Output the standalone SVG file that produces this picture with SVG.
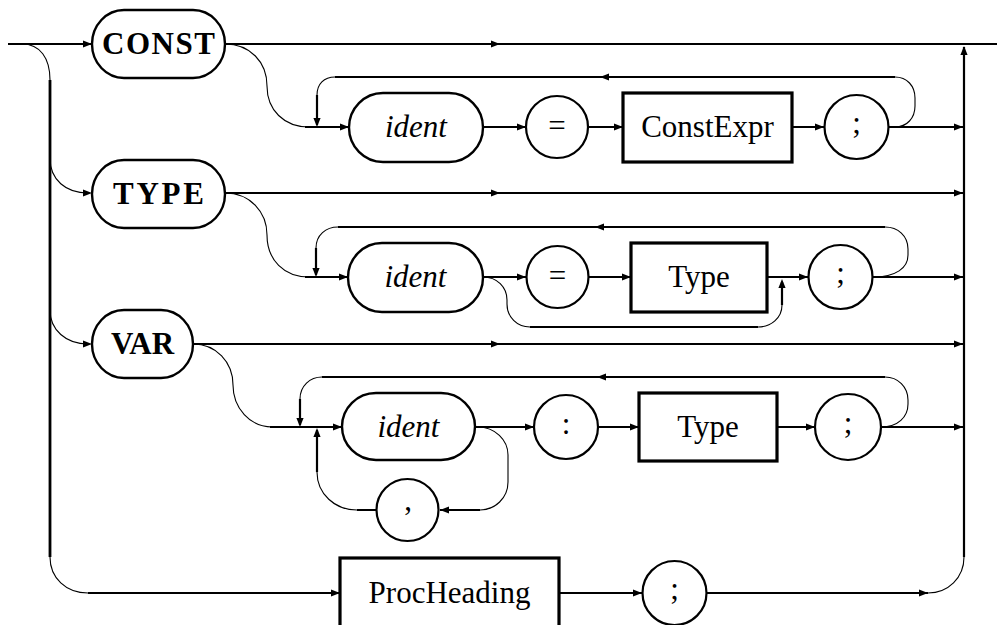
<svg xmlns="http://www.w3.org/2000/svg" xmlns:xlink="http://www.w3.org/1999/xlink" width="997" height="625" viewBox="0 0 997 625">
  <style>
    .ln { fill: none; stroke: #000; stroke-width: 2.2; }
    .thick { stroke-width: 2.8; }
    .cv { fill: none; stroke: #000; stroke-width: 1.1; }
    .pill { fill: #fff; stroke: #000; stroke-width: 2.4; }
    .box { fill: #fff; stroke: #000; stroke-width: 3.2; }
    .circ { fill: #fff; stroke: #000; stroke-width: 2.2; }
    text { font-family: "Liberation Serif", "DejaVu Serif", serif; font-size: 31px; fill: #000; text-anchor: middle; }
    .kw { font-weight: bold; }
    .id { font-style: italic; }
  </style>
  <defs>
    <path id="ah" d="M0,0 L-9,-3.6 L-9,3.6 Z" fill="#000"/>
  </defs>

  <g id="connectors">
    <!-- main straight tracks -->
    <path class="ln" d="M8,44 H997"/>
    <path class="ln" d="M225,193 H964"/>
    <path class="ln" d="M193,344 H964"/>
    <path class="ln" d="M964,557 V47"/>
    <path class="ln thick" d="M50,80 V557"/>
    <!-- CONST list -->
    <path class="ln" d="M305,127 H349 M483,127 H526 M588,127 H623 M792,127 H824 M889,127 H964"/>
    <path class="ln" d="M895,77 H335"/>
    <path class="ln" d="M317,95 V125"/>
    <!-- TYPE list -->
    <path class="ln" d="M305,277 H348 M483,277 H526 M589,277 H631 M767,277 H808 M873,277 H964"/>
    <path class="ln" d="M885,227 H338"/>
    <path class="ln" d="M316,248 V275"/>
    <path class="ln" d="M530,327 H758"/>
    <path class="ln" d="M782,305 V282"/>
    <!-- VAR list -->
    <path class="ln" d="M270,427 H342 M475,427 H534 M598,427 H639 M777,427 H815 M881,427 H964"/>
    <path class="ln" d="M885,377 H322"/>
    <path class="ln" d="M300,399 V425"/>
    <path class="ln" d="M317,472 V430"/>
    <path class="ln" d="M480,510 H440 M376,510 H357"/>
    <!-- procedure declarations -->
    <path class="ln" d="M88,593 H340 M559,593 H642 M707,593 H928"/>

    <!-- curved joins -->
    <path class="cv" d="M22,44 C40,44 50,58 50,80"/>
    <path class="cv" d="M50,158 C50,180 66,193 88,193"/>
    <path class="cv" d="M50,310 C50,330 66,344 88,344"/>
    <path class="cv" d="M50,557 C50,578 66,593 88,593"/>
    <path class="cv" d="M928,593 C948,593 964,578 964,557"/>
    <path class="cv" d="M225,44 C250,44 267,62 267,86 C267,110 284,127 309,127"/>
    <path class="cv" d="M225,193 C250,193 267,212 267,235 C267,260 284,277 309,277"/>
    <path class="cv" d="M193,344 C216,344 233,362 233,385 C233,408 250,427 272,427"/>
    <path class="cv" d="M335,77 C324,77 317,84 317,95"/>
    <path class="cv" d="M889,127 H895 C907,127 915,118 915,106 V98 C915,86 907,77 895,77"/>
    <path class="cv" d="M338,227 C326,227 316,235 316,248"/>
    <path class="cv" d="M873,277 C896,277 908,268 908,255 V249 C908,236 898,227 885,227"/>
    <path class="cv" d="M483,277 C497,277 507,287 507,300 V304 C507,317 517,327 530,327"/>
    <path class="cv" d="M758,327 C771,327 782,318 782,305"/>
    <path class="cv" d="M322,377 C310,377 300,386 300,399"/>
    <path class="cv" d="M881,427 C898,427 908,417 908,404 V400 C908,387 898,377 885,377"/>
    <path class="cv" d="M478,427 C495,427 508,440 508,455 V482 C508,498 495,510 480,510"/>
    <path class="cv" d="M357,510 C335,510 317,494 317,472"/>

    <!-- arrowheads -->
    <g>
      <use xlink:href="#ah" transform="translate(92,44)"/>
      <use xlink:href="#ah" transform="translate(500,44)"/>
      <use xlink:href="#ah" transform="translate(92,193)"/>
      <use xlink:href="#ah" transform="translate(92,344)"/>
      <use xlink:href="#ah" transform="translate(349,127)"/>
      <use xlink:href="#ah" transform="translate(526,127)"/>
      <use xlink:href="#ah" transform="translate(623,127)"/>
      <use xlink:href="#ah" transform="translate(824,127)"/>
      <use xlink:href="#ah" transform="translate(963,127)"/>
      <use xlink:href="#ah" transform="translate(500,193)"/>
      <use xlink:href="#ah" transform="translate(963,193)"/>
      <use xlink:href="#ah" transform="translate(348,277)"/>
      <use xlink:href="#ah" transform="translate(526,277)"/>
      <use xlink:href="#ah" transform="translate(631,277)"/>
      <use xlink:href="#ah" transform="translate(808,277)"/>
      <use xlink:href="#ah" transform="translate(963,277)"/>
      <use xlink:href="#ah" transform="translate(500,344)"/>
      <use xlink:href="#ah" transform="translate(963,344)"/>
      <use xlink:href="#ah" transform="translate(342,427)"/>
      <use xlink:href="#ah" transform="translate(534,427)"/>
      <use xlink:href="#ah" transform="translate(639,427)"/>
      <use xlink:href="#ah" transform="translate(815,427)"/>
      <use xlink:href="#ah" transform="translate(963,427)"/>
      <use xlink:href="#ah" transform="translate(340,593)"/>
      <use xlink:href="#ah" transform="translate(642,593)"/>
      <use xlink:href="#ah" transform="translate(928,593)"/>
      <use xlink:href="#ah" transform="translate(600,77) rotate(180)"/>
      <use xlink:href="#ah" transform="translate(595,227) rotate(180)"/>
      <use xlink:href="#ah" transform="translate(597,377) rotate(180)"/>
      <use xlink:href="#ah" transform="translate(440,510) rotate(180)"/>
      <use xlink:href="#ah" transform="translate(317,127) rotate(90)"/>
      <use xlink:href="#ah" transform="translate(316,277) rotate(90)"/>
      <use xlink:href="#ah" transform="translate(300,427) rotate(90)"/>
      <use xlink:href="#ah" transform="translate(317,428) rotate(-90)"/>
      <use xlink:href="#ah" transform="translate(782,279) rotate(-90)"/>
      <use xlink:href="#ah" transform="translate(964,46) rotate(-90)"/>
    </g>
  </g>

  <!-- keywords -->
  <g id="kw-const"><rect class="pill" x="92" y="10" width="133" height="68" rx="32" ry="34"/><text class="kw" x="158.5" y="54" textLength="113" lengthAdjust="spacing">CONST</text></g>
  <g id="kw-type"><rect class="pill" x="92" y="160" width="133" height="68" rx="32" ry="34"/><text class="kw" x="158.5" y="204" textLength="91" lengthAdjust="spacing">TYPE</text></g>
  <g id="kw-var"><rect class="pill" x="92" y="310" width="101" height="68" rx="32" ry="34"/><text class="kw" x="142.5" y="354">VAR</text></g>

  <!-- constant declarations -->
  <g id="const-ident"><rect class="pill" x="349" y="93" width="134" height="69" rx="34" ry="34.5"/><text class="id" x="416" y="137">ident</text></g>
  <g id="const-eq"><circle class="circ" cx="557" cy="127" r="31"/><text x="557" y="136">=</text></g>
  <g id="const-expr"><rect class="box" x="623" y="93" width="169" height="69"/><text x="707.5" y="137">ConstExpr</text></g>
  <g id="const-semi"><circle class="circ" cx="856.5" cy="127" r="32"/><text x="856.5" y="133">;</text></g>

  <!-- type declarations -->
  <g id="type-ident"><rect class="pill" x="348" y="243" width="135" height="69" rx="34" ry="34.5"/><text class="id" x="415.5" y="287">ident</text></g>
  <g id="type-eq"><circle class="circ" cx="557.5" cy="277" r="31"/><text x="557.5" y="286">=</text></g>
  <g id="type-type"><rect class="box" x="631" y="243" width="136" height="69"/><text x="699" y="287">Type</text></g>
  <g id="type-semi"><circle class="circ" cx="840.5" cy="277" r="32"/><text x="840.5" y="283">;</text></g>

  <!-- variable declarations -->
  <g id="var-ident"><rect class="pill" x="342" y="393" width="133" height="67" rx="34" ry="33.5"/><text class="id" x="408.5" y="437">ident</text></g>
  <g id="var-comma"><circle class="circ" cx="407.5" cy="510" r="31"/><text x="408" y="510">,</text></g>
  <g id="var-colon"><circle class="circ" cx="566" cy="427" r="32"/><text x="566" y="434">:</text></g>
  <g id="var-type"><rect class="box" x="639" y="393" width="138" height="68"/><text x="708" y="437">Type</text></g>
  <g id="var-semi"><circle class="circ" cx="848" cy="427" r="33"/><text x="848" y="433">;</text></g>

  <!-- procedure declarations -->
  <g id="proc-heading"><rect class="box" x="340" y="558" width="219" height="80"/><text x="449.5" y="603">ProcHeading</text></g>
  <g id="proc-semi"><circle class="circ" cx="674.5" cy="593" r="32"/><text x="674.5" y="599">;</text></g>
</svg>
